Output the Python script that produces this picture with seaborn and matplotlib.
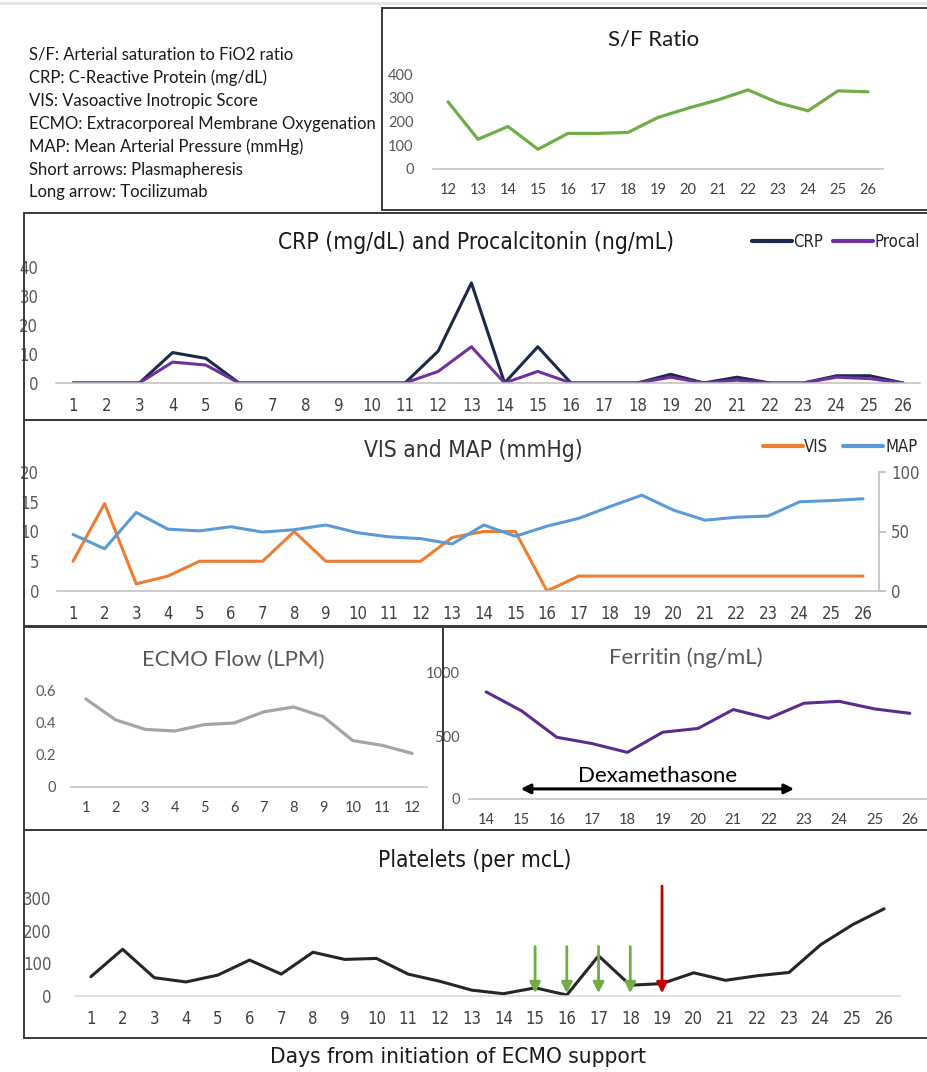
import numpy as np
import pandas as pd
import matplotlib
matplotlib.use("Agg")
import matplotlib.pyplot as plt
import matplotlib.font_manager as fm
from matplotlib.patches import Rectangle
import seaborn as sns

# ---- data ----
sf_days = list(range(12, 27))
sf_ratio = [283, 125, 179, 83, 150, 150, 154, 217, 256, 291, 333, 279, 245, 329, 325]

days = list(range(1, 27))
crp = [0, 0, 0, 10.5, 8.5, 0, 0, 0, 0, 0, 0, 11, 34.5, 0, 12.5, 0, 0, 0, 3, 0, 2, 0, 0, 2.5, 2.5, 0]
procal = [0, 0, 0, 7.2, 6.2, 0, 0, 0, 0, 0, 0, 4, 12.5, 0, 4, 0, 0, 0, 2, 0, 1, 0, 0, 2, 1.5, 0]

vis = [5, 14.7, 1.2, 2.5, 5, 5, 5, 10, 5, 5, 5, 5, 9, 10, 10, 0,
       2.5, 2.5, 2.5, 2.5, 2.5, 2.5, 2.5, 2.5, 2.5, 2.5]
map_mmhg = [47.5, 35.5, 66, 52, 50.5, 54, 49.5, 51.5, 55.5, 49, 45.5, 44, 39.5,
            55.5, 46, 54.5, 61, 71, 80.5, 68, 59.5, 62, 63, 75, 76, 77.5]

ecmo_days = list(range(1, 13))
ecmo_flow = [0.55, 0.42, 0.36, 0.35, 0.39, 0.40, 0.47, 0.50, 0.44, 0.29, 0.26, 0.21]

ferritin_days = list(range(14, 27))
ferritin = [850, 700, 490, 440, 370, 530, 560, 710, 640, 760, 775, 715, 680]
dexa_span = [14.9, 22.8]

platelets = [59, 143, 56, 43, 64, 110, 67, 134, 112, 115, 67, 45, 18, 7, 25, 3,
             123, 33, 38, 71, 48, 62, 72, 157, 218, 267]
plasmapheresis_days = [15, 16, 17, 18]
tocilizumab_day = 19

notes = [
    "S/F: Arterial saturation to FiO2 ratio",
    "CRP: C-Reactive Protein (mg/dL)",
    "VIS: Vasoactive Inotropic Score",
    "ECMO: Extracorporeal Membrane Oxygenation",
    "MAP: Mean Arterial Pressure (mmHg)",
    "Short arrows: Plasmapheresis",
    "Long arrow: Tocilizumab",
]

W, H = 927, 1072
GREY = "#595959"
AXIS = "#bfbfbf"

sns.set_theme(style="white")
plt.rcParams["font.family"] = ["Lato", "DejaVu Sans"]


def find_narrow():
    # look for an installed condensed / narrow sans face (Excel's Calibri look)
    for f in fm.fontManager.ttflist:
        name = f.name
        narrow = ("Narrow" in name or "Condensed" in name
                  or str(f.stretch) in ("condensed", "semi-condensed", "extra-condensed")
                  or (isinstance(f.stretch, int) and f.stretch < 500))
        if (narrow and "Sans" in name and "Mono" not in name and "Serif" not in name
                and f.style == "normal" and f.weight in (400, "normal", "regular")):
            return f.fname
    return None


narrow_file = find_narrow()


def nfont(size):
    if narrow_file:
        return fm.FontProperties(fname=narrow_file, size=size)
    return fm.FontProperties(family=["Lato", "DejaVu Sans"], size=size * 0.9)


def lfont(size):
    return fm.FontProperties(family=["Lato", "DejaVu Sans"], size=size)


fig = plt.figure(figsize=(W / 100, H / 100), dpi=100)


def fx(x):
    return x / W


def fy(y):
    return 1 - y / H


def px_axes(left, right, y_bottom, y_top):
    return fig.add_axes([fx(left), fy(y_bottom), (right - left) / W, (y_bottom - y_top) / H])


def box(x0, y0, x1, y1):
    fig.patches.append(Rectangle((fx(x0), fy(y1)), (x1 - x0) / W, (y1 - y0) / H,
                                 transform=fig.transFigure, fill=False,
                                 edgecolor="#3a3a3a", lw=1.4))


def excel_axis(ax, xs, yticks, font, xpad=10, ypad=10, boundary_ticks=True):
    ax.set_xlim(xs[0] - 0.5, xs[-1] + 0.5)
    ax.set_xticks(xs)
    ax.set_xticklabels([str(v) for v in xs], fontproperties=font, color="#404040")
    ax.set_yticks(yticks)
    ax.set_yticklabels([f"{v:g}" for v in yticks], fontproperties=font, color=GREY)
    ax.set_ylim(yticks[0], yticks[-1])
    ax.tick_params(axis="x", which="major", length=0, pad=xpad)
    ax.tick_params(axis="y", length=0, pad=ypad)
    if boundary_ticks:
        ax.set_xticks(np.arange(xs[0] - 0.5, xs[-1] + 1, 1), minor=True)
        ax.tick_params(axis="x", which="minor", length=5, width=1, color=AXIS, direction="out")
    for s in ("top", "right", "left"):
        ax.spines[s].set_visible(False)
    ax.spines["bottom"].set_color(AXIS)
    ax.spines["bottom"].set_linewidth(1.1)
    ax.set_xlabel("")
    ax.set_ylabel("")
    ax.patch.set_alpha(0)
    ax.grid(False)


def thick_legend(leg):
    for line in leg.get_lines():
        line.set_linewidth(3)


# panel frames
fig.add_artist(plt.Line2D([0, 1], [fy(3), fy(3)], transform=fig.transFigure, color="#e3e3e3", lw=2))
box(382, 8, 928, 210)
box(24, 213, 928, 420)
box(24, 420, 928, 626)
box(24, 627, 443, 830)
box(443, 627, 928, 830)
box(24, 830, 928, 1038)

# notes block
for i, line in enumerate(notes):
    fig.text(fx(29), fy(55 + i * 22.9), line, fontproperties=lfont(12), color="#1a1a1a",
             va="center", ha="left")

# ---- S/F ratio ----
ax = px_axes(433, 883, 169, 74)
sns.lineplot(x=sf_days, y=sf_ratio, ax=ax, color="#70AD47", lw=2.3)
excel_axis(ax, sf_days, [0, 100, 200, 300, 400], lfont(10.5), ypad=14)
fig.text(fx(654), fy(39), "S/F Ratio", fontproperties=lfont(16), ha="center", va="center",
         color="#1a1a1a")

# ---- CRP and procalcitonin ----
ax = px_axes(56.4, 919.6, 383, 267)
df = pd.DataFrame({"day": days * 2, "value": crp + procal,
                   "series": ["CRP"] * len(days) + ["Procal"] * len(days)})
sns.lineplot(data=df, x="day", y="value", hue="series", ax=ax,
             palette={"CRP": "#1b2a4a", "Procal": "#7030A0"}, lw=2.2)
excel_axis(ax, days, [0, 10, 20, 30, 40], nfont(12), ypad=13)
leg = ax.legend(loc="center", bbox_to_anchor=(fx(836), fy(242)), bbox_transform=fig.transFigure,
                ncol=2, frameon=False, handlelength=2.4, handletextpad=0.1, columnspacing=0.6,
                prop=nfont(12))
thick_legend(leg)
fig.text(fx(476), fy(243), "CRP (mg/dL) and Procalcitonin (ng/mL)", fontproperties=nfont(16.3),
         ha="center", va="center", color="#1a1a1a")

# ---- VIS and MAP ----
ax = px_axes(57.2, 878.8, 591, 472)
sns.lineplot(x=days, y=vis, ax=ax, color="#ED7D31", lw=2.2, label="VIS", legend=False)
excel_axis(ax, days, [0, 5, 10, 15, 20], nfont(12), ypad=13)
ax2 = ax.twinx()
sns.lineplot(x=days, y=map_mmhg, ax=ax2, color="#5B9BD5", lw=2.2, label="MAP", legend=False)
ax2.set_ylim(0, 100)
ax2.set_yticks([0, 50, 100])
ax2.set_yticklabels(["0", "50", "100"], fontproperties=nfont(12), color=GREY)
ax2.tick_params(axis="y", length=5, color=AXIS, pad=4)
for s in ("top", "left", "bottom"):
    ax2.spines[s].set_visible(False)
ax2.spines["right"].set_color(AXIS)
ax2.set_ylabel("")
ax2.grid(False)
h1, l1 = ax.get_legend_handles_labels()
h2, l2 = ax2.get_legend_handles_labels()
leg = ax2.legend(h1 + h2, l1 + l2, loc="center", bbox_to_anchor=(fx(840), fy(447)),
                 bbox_transform=fig.transFigure, ncol=2, frameon=False, handlelength=2.4,
                 handletextpad=0.1, columnspacing=0.9, prop=nfont(12))
thick_legend(leg)
fig.text(fx(473), fy(450), "VIS and MAP (mmHg)", fontproperties=nfont(16.3), ha="center",
         va="center", color="#333333")

# ---- ECMO flow ----
ax = px_axes(71, 427, 787, 691)
sns.lineplot(x=ecmo_days, y=ecmo_flow, ax=ax, color="#A5A5A5", lw=2.3)
excel_axis(ax, ecmo_days, [0, 0.2, 0.4, 0.6], lfont(10.5), ypad=11)
fig.text(fx(233), fy(660), "ECMO Flow (LPM)", fontproperties=lfont(16), ha="center",
         va="center", color="#595959")

# ---- Ferritin ----
ax = px_axes(468.5, 927.5, 799, 673)
sns.lineplot(x=ferritin_days, y=ferritin, ax=ax, color="#5b2c8e", lw=2.2)
excel_axis(ax, ferritin_days, [0, 500, 1000], lfont(10.5), ypad=6)
ax.annotate("", xy=(dexa_span[0], 80), xytext=(dexa_span[1], 80),
            arrowprops=dict(arrowstyle="<|-|>", color="black", lw=2.2, mutation_scale=14))
ax.text(np.mean(dexa_span), 185, "Dexamethasone", fontproperties=lfont(16), ha="center",
        va="center", color="black")
fig.text(fx(686), fy(658), "Ferritin (ng/mL)", fontproperties=lfont(16), ha="center",
         va="center", color="#595959")

# ---- Platelets ----
ax = px_axes(75, 900, 996, 898)
sns.lineplot(x=days, y=platelets, ax=ax, color="#262626", lw=2.2)
excel_axis(ax, days, [0, 100, 200, 300], nfont(12), ypad=17, boundary_ticks=False)
ax.spines["bottom"].set_color("#d9d9d9")
for d in plasmapheresis_days:
    ax.annotate("", xy=(d, 0), xytext=(d, 160),
                arrowprops=dict(arrowstyle="-|>", color="#70AD47", lw=2, mutation_scale=16))
ax.annotate("", xy=(tocilizumab_day, 0), xytext=(tocilizumab_day, 345), annotation_clip=False,
            arrowprops=dict(arrowstyle="-|>", color="#C00000", lw=2, mutation_scale=16))
fig.text(fx(475), fy(860), "Platelets (per mcL)", fontproperties=nfont(16.3), ha="center",
         va="center", color="#1a1a1a")

fig.text(fx(458), fy(1057), "Days from initiation of ECMO support", fontproperties=nfont(16.2),
         ha="center", va="center", color="#1a1a1a")

fig.savefig("out.png", dpi=100, facecolor="white")
